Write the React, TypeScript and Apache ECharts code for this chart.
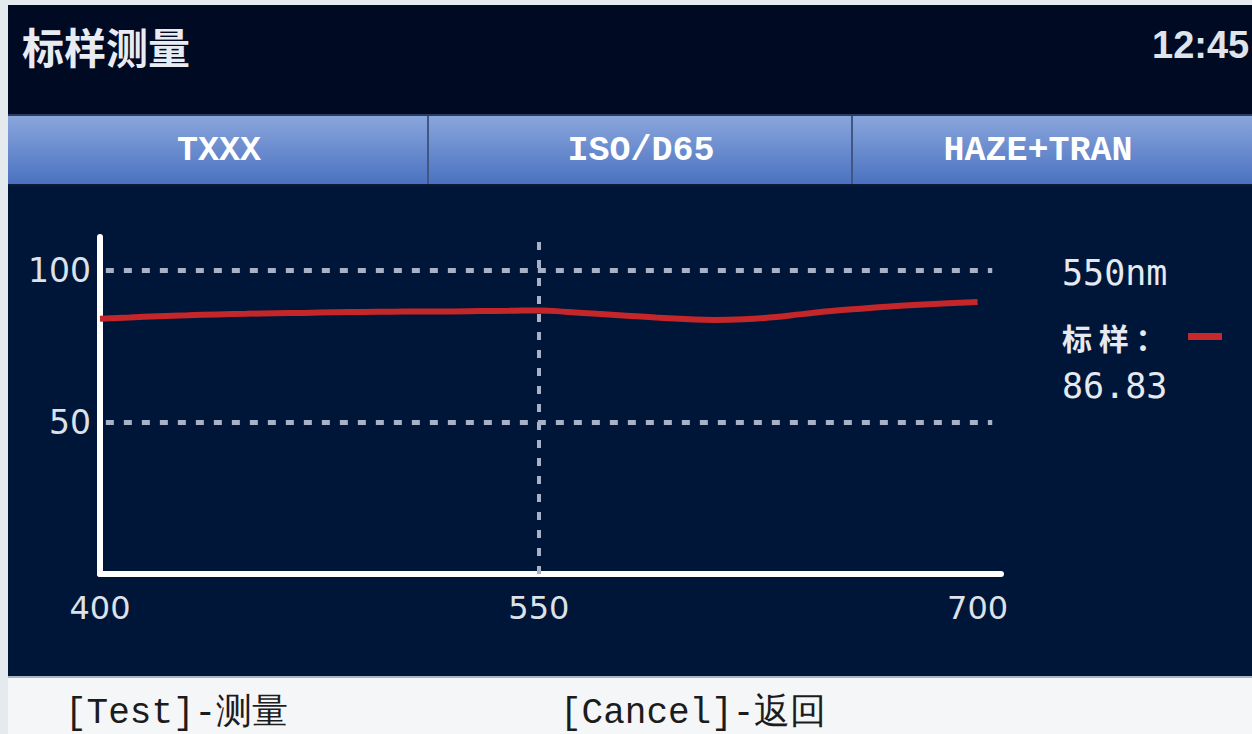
import React, { useEffect, useRef } from "react";
import * as echarts from "echarts";

// ---- data ----
const wavelengths = [400, 410, 420, 430, 440, 450, 460, 470, 480, 490, 500, 510, 520, 530, 540, 550, 560, 570, 580, 590, 600, 610, 620, 630, 640, 650, 660, 670, 680, 690, 700];
const sampleValues = [84.1, 84.5, 84.9, 85.2, 85.5, 85.7, 85.9, 86.0, 86.2, 86.3, 86.4, 86.5, 86.5, 86.6, 86.7, 86.83, 86.3, 85.7, 85.1, 84.5, 84.0, 83.7, 83.9, 84.6, 85.6, 86.6, 87.4, 88.1, 88.7, 89.2, 89.6];
const xTickLabels = [400, 550, 700];
const yTickLabels = [50, 100];
const gridLineStartNm = 402;
const gridLineEndNm = 705;
const cursorNm = 550;
const tabs = ["TXXX", "ISO/D65", "HAZE+TRAN"];
const titleText = "标样测量";
const clockText = "12:45";
const legendLabel = "标 样 ：";
const footerItems = ["[Test]-测量", "[Cancel]-返回"];

export default function App() {
  const ref = useRef<HTMLDivElement>(null);

  useEffect(() => {
    if (!ref.current) return;
    const chart = echarts.init(ref.current, undefined, { renderer: "svg" });
    const cursorIdx = wavelengths.indexOf(cursorNm);
    const cursorVal = sampleValues[cursorIdx];
    const dotted = { color: "#a8b1c6", width: 5, type: [8, 10] as number[] };
    const tabCenters = [219, 641, 1038];
    const footerX = [65, 560];

    chart.setOption({
      animation: false,
      backgroundColor: "#001638",
      grid: { left: 100, right: 251, top: 237, bottom: 160 },
      xAxis: {
        type: "value",
        min: 400,
        max: 708,
        interval: 50,
        axisLine: { show: true, lineStyle: { color: "#ffffff", width: 6 } },
        axisTick: { show: false },
        splitLine: { show: false },
        axisLabel: {
          color: "#dde2ea",
          fontSize: 32,
          fontFamily: "DejaVu Sans",
          margin: 18,
          formatter: (v: number) => (xTickLabels.includes(v) ? String(v) : ""),
        },
      },
      yAxis: {
        type: "value",
        min: 0,
        max: 111,
        interval: 50,
        axisLine: { show: true, lineStyle: { color: "#ffffff", width: 6 } },
        axisTick: { show: false },
        splitLine: { show: false },
        axisLabel: {
          color: "#dde2ea",
          fontSize: 33,
          fontFamily: "DejaVu Sans",
          margin: 9,
          formatter: (v: number) => (yTickLabels.includes(v) ? String(v) : ""),
        },
      },
      series: [
        {
          type: "line",
          data: wavelengths.map((w, i) => [w, sampleValues[i]]),
          smooth: true,
          showSymbol: false,
          lineStyle: { color: "#c4262a", width: 6 },
          z: 5,
          markLine: {
            silent: true,
            symbol: ["none", "none"],
            label: { show: false },
            lineStyle: dotted,
            data: [
              ...yTickLabels.map((v) => [
                { coord: [gridLineStartNm, v] },
                { coord: [gridLineEndNm, v] },
              ]),
              { xAxis: cursorNm, lineStyle: { ...dotted, width: 4 } },
            ],
          },
        },
      ],
      graphic: [
        // outer light frame
        { type: "rect", shape: { x: 0, y: 0, width: 8, height: 734 }, style: { fill: "#e4eaed" } },
        { type: "rect", shape: { x: 0, y: 0, width: 1252, height: 5 }, style: { fill: "#e4eaed" } },
        // title bar
        { type: "rect", shape: { x: 8, y: 5, width: 1244, height: 110 }, style: { fill: "#000a22" } },
        {
          type: "text", x: 22, y: 45,
          style: { text: titleText, fill: "#e8ecf2", fontSize: 42, fontWeight: "bold", fontFamily: "Noto Sans CJK SC", textAlign: "left", textVerticalAlign: "middle" },
        },
        {
          type: "text", x: 1152, y: 45,
          style: { text: clockText, fill: "#dfe3ea", fontSize: 38, fontWeight: "bold", fontFamily: "Liberation Sans", textAlign: "left", textVerticalAlign: "middle" },
        },
        // tab bar
        {
          type: "rect", shape: { x: 8, y: 115, width: 1244, height: 70 },
          style: {
            fill: new echarts.graphic.LinearGradient(0, 0, 0, 1, [
              { offset: 0, color: "#8aa6dc" },
              { offset: 1, color: "#4a71c0" },
            ]),
          },
        },
        { type: "line", shape: { x1: 8, y1: 115, x2: 1252, y2: 115 }, style: { stroke: "#2a3c60", lineWidth: 2 } },
        { type: "line", shape: { x1: 8, y1: 185, x2: 1252, y2: 185 }, style: { stroke: "#0e1c3a", lineWidth: 2 } },
        { type: "line", shape: { x1: 428, y1: 116, x2: 428, y2: 184 }, style: { stroke: "#3f5782", lineWidth: 2 } },
        { type: "line", shape: { x1: 852, y1: 116, x2: 852, y2: 184 }, style: { stroke: "#3f5782", lineWidth: 2 } },
        ...tabs.map((t, i) => ({
          type: "text", x: tabCenters[i], y: 151,
          style: { text: t, fill: "#ffffff", fontSize: 35, fontWeight: "bold", fontFamily: "Liberation Mono", textAlign: "center", textVerticalAlign: "middle" },
        })),
        // legend / cursor readout
        {
          type: "text", x: 1062, y: 273,
          style: { text: `${cursorNm}nm`, fill: "#e6eaf0", fontSize: 35, fontFamily: "DejaVu Sans Mono", textAlign: "left", textVerticalAlign: "middle" },
        },
        {
          type: "text", x: 1062, y: 337,
          style: { text: legendLabel, fill: "#e6eaf0", fontSize: 30, fontWeight: "bold", fontFamily: "Noto Sans CJK SC", textAlign: "left", textVerticalAlign: "middle" },
        },
        { type: "rect", shape: { x: 1188, y: 333, width: 34, height: 7 }, style: { fill: "#c8282c" } },
        {
          type: "text", x: 1062, y: 386,
          style: { text: cursorVal.toFixed(2), fill: "#e6eaf0", fontSize: 35, fontFamily: "DejaVu Sans Mono", textAlign: "left", textVerticalAlign: "middle" },
        },
        // footer
        { type: "rect", shape: { x: 8, y: 677, width: 1244, height: 57 }, style: { fill: "#f4f6f8" } },
        { type: "line", shape: { x1: 8, y1: 677, x2: 1252, y2: 677 }, style: { stroke: "#aab4c2", lineWidth: 2 } },
        ...footerItems.map((t, i) => ({
          type: "text", x: footerX[i], y: 713,
          style: { text: t, fill: "#1c1c1c", fontSize: 36, fontFamily: "Liberation Mono", textAlign: "left", textVerticalAlign: "middle" },
        })),
      ],
    });

    return () => chart.dispose();
  }, []);

  return (
    <div
      ref={ref}
      style={{ position: "fixed", left: 0, top: 0, width: 1252, height: 734 }}
    />
  );
}
